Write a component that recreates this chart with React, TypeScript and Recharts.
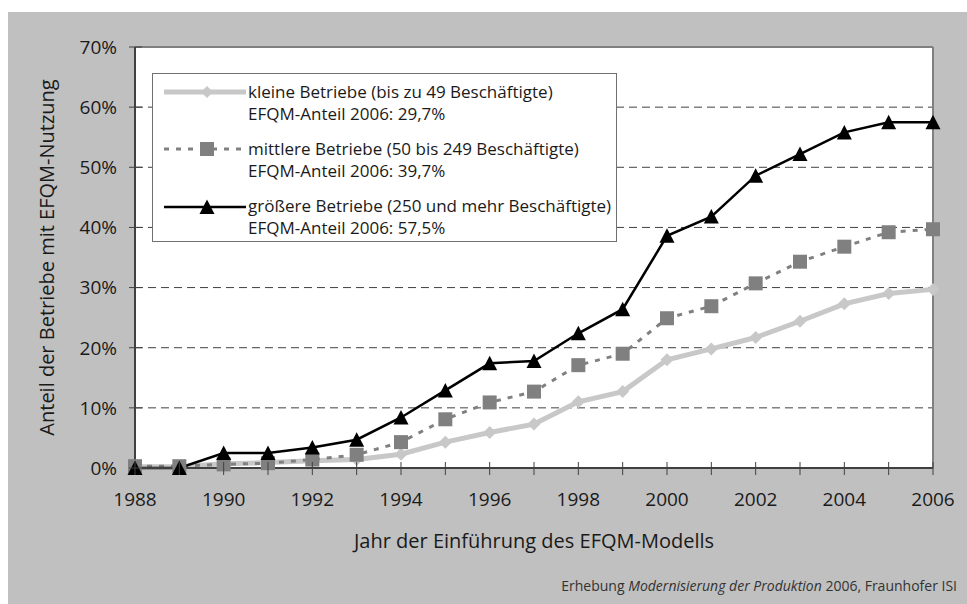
import React from "react";
import {
  LineChart,
  Line,
  XAxis,
  YAxis,
  CartesianGrid,
  ReferenceLine,
  Legend,
  Label,
} from "recharts";

const years = [
  1988, 1989, 1990, 1991, 1992, 1993, 1994, 1995, 1996, 1997, 1998, 1999, 2000,
  2001, 2002, 2003, 2004, 2005, 2006,
];
const kleine = [
  0.2, 0.2, 0.7, 0.9, 1.2, 1.4, 2.3, 4.3, 5.9, 7.3, 11.0, 12.7, 18.0, 19.8,
  21.7, 24.4, 27.3, 29.0, 29.7,
];
const mittlere = [
  0.3, 0.3, 0.6, 0.8, 1.4, 2.2, 4.3, 8.1, 10.9, 12.7, 17.1, 19.0, 24.9, 26.9,
  30.7, 34.3, 36.8, 39.2, 39.7,
];
const groessere = [
  0, 0, 2.5, 2.5, 3.4, 4.7, 8.4, 12.9, 17.4, 17.8, 22.4, 26.4, 38.6, 41.8, 48.6,
  52.2, 55.8, 57.5, 57.5,
];
const xTickLabels = [1988, 1990, 1992, 1994, 1996, 1998, 2000, 2002, 2004, 2006];
const yTicks = [0, 10, 20, 30, 40, 50, 60, 70];
const seriesNames = [
  "kleine Betriebe (bis zu 49 Beschäftigte)",
  "mittlere Betriebe (50 bis 249 Beschäftigte)",
  "größere Betriebe (250 und mehr Beschäftigte)",
];
const seriesShares = [
  "EFQM-Anteil 2006: 29,7%",
  "EFQM-Anteil 2006: 39,7%",
  "EFQM-Anteil 2006: 57,5%",
];

const data = years.map((year, i) => ({
  year,
  kleine: kleine[i],
  mittlere: mittlere[i],
  groessere: groessere[i],
}));

const FONT = "'Open Sans', sans-serif";
const TEXT = "#1a1a1a";
const LIGHT = "#c8c8c8";
const MID = "#808080";

const Diamond = (props: any) => {
  const { cx, cy, index } = props;
  if (cx == null || cy == null) return null;
  const r = 6.5;
  return (
    <polygon
      key={`d-${index}`}
      points={`${cx},${cy - r} ${cx + r},${cy} ${cx},${cy + r} ${cx - r},${cy}`}
      fill={LIGHT}
    />
  );
};

const Square = (props: any) => {
  const { cx, cy, index } = props;
  if (cx == null || cy == null) return null;
  return <rect key={`s-${index}`} x={cx - 7} y={cy - 7} width={14} height={14} fill={MID} />;
};

const Triangle = (props: any) => {
  const { cx, cy, index } = props;
  if (cx == null || cy == null) return null;
  return (
    <polygon
      key={`t-${index}`}
      points={`${cx},${cy - 7.5} ${cx + 7.5},${cy + 7} ${cx - 7.5},${cy + 7}`}
      fill="#000"
    />
  );
};

// ticks cross the axis line, so they are drawn here instead of by tickLine
const XTick = (props: any) => {
  const { x, y, payload } = props;
  const axisY = y - 25;
  const show = xTickLabels.includes(payload.value);
  return (
    <g>
      <line x1={x} x2={x} y1={axisY - 6} y2={axisY + 7} stroke="#404040" strokeWidth={1} />
      {show && (
        <text x={x} y={y} dy="0.71em" textAnchor="middle" fill={TEXT} fontSize={19} fontFamily={FONT}>
          {payload.value}
        </text>
      )}
    </g>
  );
};

const YTick = (props: any) => {
  const { x, y, payload } = props;
  const axisX = x + 18;
  return (
    <g>
      <line x1={axisX - 6} x2={axisX + 7} y1={y} y2={y} stroke="#404040" strokeWidth={1} />
      <text x={x} y={y} dy="0.36em" textAnchor="end" fill={TEXT} fontSize={19} fontFamily={FONT}>
        {`${payload.value}%`}
      </text>
    </g>
  );
};

const LegendSample = ({ i }: { i: number }) => {
  if (i === 0)
    return (
      <svg width={82} height={14}>
        <line x1={0} x2={82} y1={7} y2={7} stroke={LIGHT} strokeWidth={5} />
        <polygon points="43,1 49,7 43,13 37,7" fill={LIGHT} />
      </svg>
    );
  if (i === 1)
    return (
      <svg width={82} height={14}>
        <line x1={0} x2={82} y1={7} y2={7} stroke={MID} strokeWidth={3} strokeDasharray="5 7" />
        <rect x={36} y={0} width={14} height={14} fill={MID} />
      </svg>
    );
  return (
    <svg width={82} height={16}>
      <line x1={0} x2={82} y1={9} y2={9} stroke="#000" strokeWidth={2.5} />
      <polygon points="43,1.5 50.5,16 35.5,16" fill="#000" />
    </svg>
  );
};

const renderLegend = () => (
  <div
    style={{
      width: 465,
      height: 169,
      boxSizing: "border-box",
      border: "1px solid #707070",
      background: "#fff",
      padding: "7px 0 0 11px",
      fontFamily: FONT,
      fontSize: 17,
      lineHeight: "21.5px",
      color: TEXT,
    }}
  >
    {seriesNames.map((name, i) => (
      <div key={name} style={{ display: "flex", marginBottom: 14 }}>
        <div style={{ width: 84, height: 21.5, display: "flex", alignItems: "center" }}>
          <LegendSample i={i} />
        </div>
        <div>
          <div style={{ whiteSpace: "nowrap" }}>{name}</div>
          <div>{seriesShares[i]}</div>
        </div>
      </div>
    ))}
  </div>
);

export default function App() {
  return (
    <div
      style={{
        position: "absolute",
        left: 8,
        top: 12,
        width: 959,
        height: 592,
        background: "#c0c0c0",
        overflow: "hidden",
        fontFamily: FONT,
      }}
    >
      <LineChart
        width={959}
        height={592}
        data={data}
        margin={{ top: 35, right: 34, left: 57, bottom: 106 }}
      >
        <CartesianGrid
          vertical={false}
          stroke="#404040"
          strokeDasharray="8 5"
          fill="#fff"
          fillOpacity={1}
        />
        <XAxis
          dataKey="year"
          type="number"
          domain={[1988, 2006]}
          ticks={years}
          interval={0}
          height={30}
          tickSize={7}
          tickMargin={18}
          tickLine={false}
          axisLine={{ stroke: "#404040", strokeWidth: 2 }}
          tick={<XTick />}
        >
          <Label
            content={(p: any) => {
              const vb = p.viewBox || {};
              return (
                <text
                  x={vb.x + vb.width / 2}
                  y={529}
                  textAnchor="middle"
                  dy="0.36em"
                  fill={TEXT}
                  fontSize={20}
                  fontFamily={FONT}
                >
                  Jahr der Einführung des EFQM-Modells
                </text>
              );
            }}
          />
        </XAxis>
        <YAxis
          type="number"
          domain={[0, 70]}
          ticks={yTicks}
          interval={0}
          width={70}
          tickSize={6}
          tickMargin={12}
          tickLine={false}
          axisLine={{ stroke: "#404040", strokeWidth: 2 }}
          tick={<YTick />}
        >
          <Label
            content={(p: any) => {
              const vb = p.viewBox || {};
              const cy = vb.y + vb.height / 2;
              return (
                <text
                  x={39}
                  y={cy}
                  transform={`rotate(-90, 39, ${cy})`}
                  textAnchor="middle"
                  dy="0.36em"
                  fill={TEXT}
                  fontSize={20}
                  fontFamily={FONT}
                >
                  Anteil der Betriebe mit EFQM-Nutzung
                </text>
              );
            }}
          />
        </YAxis>
        <ReferenceLine y={70} stroke={MID} strokeWidth={2} />
        <ReferenceLine x={2006} stroke={MID} strokeWidth={2} />
        <Legend
          layout="horizontal"
          verticalAlign="middle"
          align="center"
          content={renderLegend}
          wrapperStyle={{ position: "absolute", left: 144, top: 61, width: 465, height: 169 }}
        />
        <Line
          dataKey="kleine"
          stroke={LIGHT}
          strokeWidth={5}
          dot={Diamond}
          activeDot={false}
          isAnimationActive={false}
        />
        <Line
          dataKey="mittlere"
          stroke={MID}
          strokeWidth={3}
          strokeDasharray="5 7"
          dot={Square}
          activeDot={false}
          isAnimationActive={false}
        />
        <Line
          dataKey="groessere"
          stroke="#000"
          strokeWidth={2.5}
          dot={Triangle}
          activeDot={false}
          isAnimationActive={false}
        />
      </LineChart>
      <div
        style={{
          position: "absolute",
          right: 10,
          top: 565,
          fontSize: 14,
          lineHeight: "18px",
          color: "#333",
          whiteSpace: "nowrap",
        }}
      >
        Erhebung <i>Modernisierung der Produktion</i> 2006, Fraunhofer ISI
      </div>
    </div>
  );
}
